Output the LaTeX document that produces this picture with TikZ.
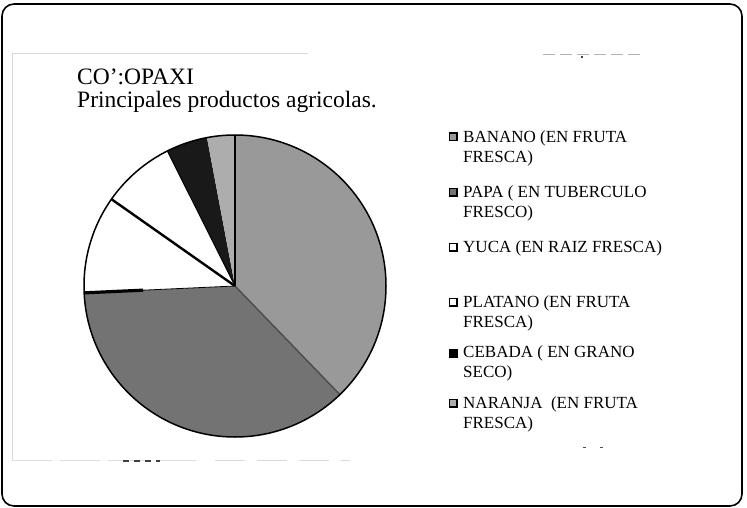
\documentclass[tikz,border=0pt]{standalone}
\usepackage{fontspec}
\setmainfont{Liberation Serif}
\usetikzlibrary{positioning}

\tikzset{
  legsq/.style={draw=black, line width=1.5pt, minimum size=7.5pt, inner sep=0pt},
  legtxt/.style={anchor=base west, align=left, inner sep=0pt,
    font=\fontsize{17}{20}\selectfont},
  titletxt/.style={anchor=base west, inner sep=0pt, font=\fontsize{23.5}{23.5}\selectfont},
}

\begin{document}
\begin{tikzpicture}[x=1pt,y=-1pt]
\useasboundingbox (0,0) rectangle (747,508);
\draw[line width=1.6pt, rounded corners=12pt] (2,4) rectangle (742,506);
% faint chart frame
\draw[gray!30, line width=0.8pt] (12,460) -- (12,53) -- (308,53);
\draw[gray!25, line width=0.8pt, dash pattern=on 40pt off 8pt] (12,460) -- (200,460);
\draw[black!75, line width=1.4pt, dash pattern=on 6pt off 5pt] (123,461) -- (160,461);
\draw[gray!30, line width=0.8pt, dash pattern=on 30pt off 12pt] (215,460) -- (350,460);
\draw[gray!60, line width=1pt, dash pattern=on 12pt off 5pt] (543,55) -- (645,55);
\draw[black!70, line width=1pt, dash pattern=on 3pt off 14pt] (583,447) -- (603,447);
\fill (582,57) circle[radius=1.2pt];

% title
\node[titletxt] (ttl1) at (77,85) {CO':OPAXI};
\node[titletxt] (ttl2) at (77,108) {Principales productos agricolas.};

% pie
\begin{scope}[shift={(235,286)}, yscale=-1]
\fill[black!40] (0,0) -- (-46:151) arc[start angle=-46, end angle=90, radius=151] -- cycle;
\fill[black!55] (0,0) -- (182.6:151) arc[start angle=182.6, end angle=314, radius=151] -- cycle;
\fill[white] (0,0) -- (144.9:151) arc[start angle=144.9, end angle=182.6, radius=151] -- cycle;
\fill[white] (0,0) -- (116.6:151) arc[start angle=116.6, end angle=144.9, radius=151] -- cycle;
\fill[black!90] (0,0) -- (100.7:151) arc[start angle=100.7, end angle=116.6, radius=151] -- cycle;
\fill[black!32] (0,0) -- (90:151) arc[start angle=90, end angle=100.7, radius=151] -- cycle;
\draw[black!70, line width=1.4pt] (0,0) -- (-46:151);
\draw[line width=2.4pt] (0,0) -- (144.9:151);
\draw[line width=1.8pt] (0,0) -- (90:151);
\draw[line width=1pt] (0,0) -- (116.6:151);
\draw[line width=0.8pt] (0,0) -- (182.6:151);
\draw[line width=3.2pt] (182.6:151) -- (182.6:92);
\draw[line width=1.5pt] (0,0) circle[radius=151];
\end{scope}

% legend
\node[legsq, fill=black!40] (sqbanano) at (453,137) {};
\node[legtxt] (txtbanano) at (463,162) {BANANO (EN FRUTA\\FRESCA)};
\node[legsq, fill=black!55] (sqpapa) at (453,192) {};
\node[legtxt] (txtpapa) at (463,217) {PAPA ( EN TUBERCULO\\FRESCO)};
\node[legsq, fill=white] (sqyuca) at (453,247) {};
\node[legtxt] (txtyuca) at (463,252) {YUCA (EN RAIZ FRESCA)};
\node[legsq, fill=white] (sqplatano) at (453,302) {};
\node[legtxt] (txtplatano) at (463,327) {PLATANO (EN FRUTA\\FRESCA)};
\node[legsq, fill=black] (sqcebada) at (453,353) {};
\node[legtxt] (txtcebada) at (463,377) {CEBADA ( EN GRANO\\SECO)};
\node[legsq, fill=black!32] (sqnaranja) at (453,403) {};
\node[legtxt] (txtnaranja) at (463,428) {NARANJA~ (EN FRUTA\\FRESCA)};
\end{tikzpicture}
\end{document}
